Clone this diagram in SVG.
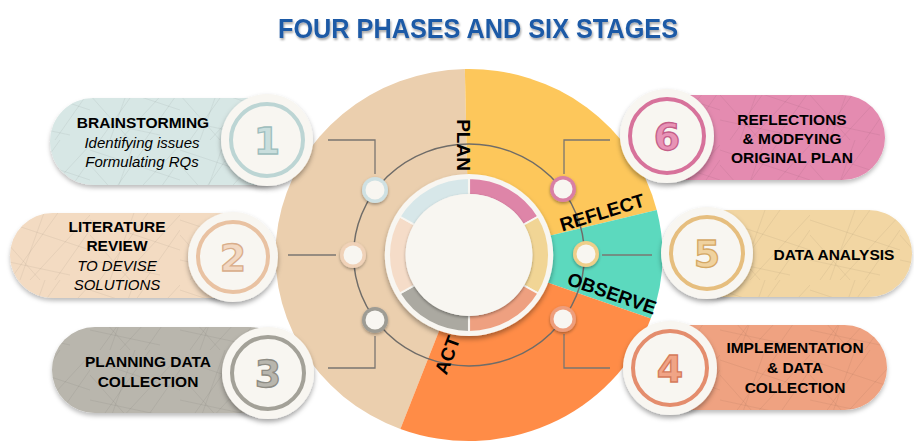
<svg xmlns="http://www.w3.org/2000/svg" width="914" height="446" viewBox="0 0 914 446">
<defs>
<style>
.t{font-family:"Liberation Sans",Arial,sans-serif;font-size:15.5px;font-weight:bold;fill:#000;text-anchor:middle}
.i{font-family:"Liberation Sans",Arial,sans-serif;font-size:15px;font-style:italic;fill:#000;text-anchor:middle}
.lab{font-family:"Liberation Sans",Arial,sans-serif;font-size:19px;font-weight:bold;fill:#000;text-anchor:middle}
.num{font-family:"DejaVu Sans",sans-serif;font-size:38px;font-weight:bold;text-anchor:middle;stroke-width:1.3}
.disc{fill:#F8F6F1;filter:url(#sh)}
.conn{fill:none;stroke:#7a7670;stroke-width:1.3}
.dot{filter:url(#sh2)}
</style>
<filter id="sh" x="-30%" y="-30%" width="160%" height="170%"><feDropShadow dx="0" dy="3" stdDeviation="2.5" flood-color="#000" flood-opacity="0.35"/></filter>
<filter id="sh2" x="-50%" y="-50%" width="200%" height="200%"><feDropShadow dx="0" dy="1.5" stdDeviation="1.5" flood-color="#000" flood-opacity="0.35"/></filter>
<filter id="shp" x="-10%" y="-20%" width="120%" height="150%"><feDropShadow dx="0" dy="3" stdDeviation="2" flood-color="#000" flood-opacity="0.25"/></filter>
<filter id="ts" x="-5%" y="-30%" width="110%" height="170%"><feDropShadow dx="1" dy="2" stdDeviation="1.2" flood-color="#000" flood-opacity="0.35"/></filter>
<pattern id="tex" width="90" height="70" patternUnits="userSpaceOnUse">
<path d="M0 10 L90 40 M10 70 L60 0 M30 70 L90 5 M0 50 L70 65 M45 0 L20 70 M0 25 L40 70 M55 70 L90 20" stroke="#000" stroke-opacity="0.08" stroke-width="0.7" fill="none"/>
</pattern>
</defs>
<rect width="914" height="446" fill="#fff"/>

<text x="478" y="38" font-family="Liberation Sans,Arial,sans-serif" font-size="27" font-weight="bold" fill="#1F5AA6" text-anchor="middle" textLength="400" lengthAdjust="spacingAndGlyphs" filter="url(#ts)">FOUR PHASES AND SIX STAGES</text>

<g id="wheel" transform="translate(469,255) scale(1.04,1)">
<path d="M0,0 L-66,173.9 A186,186 0 0 1 -4,-186 Z" fill="#EBCFAE"/>
<path d="M0,0 L-4,-186 A186,186 0 0 1 180.5,-45 Z" fill="#FDC75B"/>
<path d="M0,0 L180.5,-45 A186,186 0 0 1 174.8,63.6 Z" fill="#5CD9BE"/>
<path d="M0,0 L174.8,63.6 A186,186 0 0 1 -66,173.9 Z" fill="#FF8C47"/>
<circle r="111" fill="none" stroke="#6f6c68" stroke-width="1.4"/>
</g>

<g id="connectors">
<path class="conn" d="M328,140 H375 V174"/>
<path class="conn" d="M288,255 H336"/>
<path class="conn" d="M328,368 H375 V336"/>
<path class="conn" d="M610,140 H564 V174"/>
<path class="conn" d="M602,255 H652"/>
<path class="conn" d="M610,368 H564 V334"/>
</g>

<g id="dots">
<g class="dot"><circle cx="375" cy="190" r="13" fill="#CFE1E3"/><circle cx="375" cy="190" r="9.5" fill="#F8F6F1"/></g>
<g class="dot"><circle cx="353" cy="255" r="13" fill="#F0D2B8"/><circle cx="353" cy="255" r="9.5" fill="#F8F6F1"/></g>
<g class="dot"><circle cx="375" cy="320" r="13" fill="#9E9C94"/><circle cx="375" cy="320" r="9.5" fill="#F8F6F1"/></g>
<g class="dot"><circle cx="563" cy="189" r="13" fill="#D97FA4"/><circle cx="563" cy="189" r="9.5" fill="#F8F6F1"/></g>
<g class="dot"><circle cx="586" cy="254" r="13" fill="#EECF8A"/><circle cx="586" cy="254" r="9.5" fill="#F8F6F1"/></g>
<g class="dot"><circle cx="563" cy="319" r="13" fill="#EE9E7C"/><circle cx="563" cy="319" r="9.5" fill="#F8F6F1"/></g>
</g>

<g id="hub" transform="translate(469,255) scale(1.04,1)">
<circle r="81" class="disc"/>
<g stroke="#F8F6F1" stroke-width="2">
<path d="M0,-77 A77,77 0 0 1 66.68,-38.5 L51.96,-30 A60,60 0 0 0 0,-60 Z" fill="#DE85A8"/>
<path d="M66.68,-38.5 A77,77 0 0 1 66.68,38.5 L51.96,30 A60,60 0 0 0 51.96,-30 Z" fill="#F1D595"/>
<path d="M66.68,38.5 A77,77 0 0 1 0,77 L0,60 A60,60 0 0 0 51.96,30 Z" fill="#EEA080"/>
<path d="M0,77 A77,77 0 0 1 -66.68,38.5 L-51.96,30 A60,60 0 0 0 0,60 Z" fill="#ABA9A1"/>
<path d="M-66.68,38.5 A77,77 0 0 1 -66.68,-38.5 L-51.96,-30 A60,60 0 0 0 -51.96,30 Z" fill="#F5DCC8"/>
<path d="M-66.68,-38.5 A77,77 0 0 1 0,-77 L0,-60 A60,60 0 0 0 -51.96,-30 Z" fill="#D7E7E9"/>
</g>
<circle r="61" fill="#F8F6F1" filter="url(#sh2)"/>
</g>

<g id="labels">
<text class="lab" transform="translate(464,145) rotate(90)" y="7">PLAN</text>
<text class="lab" transform="translate(602,212) rotate(-17)" y="7">REFLECT</text>
<text class="lab" transform="translate(612,293) rotate(19)" y="7">OBSERVE</text>
<text class="lab" transform="translate(447,355) rotate(-69)" y="7">ACT</text>
</g>

<g id="node1">
<rect x="50" y="98" width="250" height="87" rx="43.5" fill="#D7E7E5" filter="url(#shp)"/>
<rect x="50" y="98" width="250" height="87" rx="43.5" fill="url(#tex)"/>
<text class="t" x="143" y="128">BRAINSTORMING</text>
<text class="i" x="142" y="148">Identifying issues</text>
<text class="i" x="142" y="167">Formulating RQs</text>
<circle cx="267" cy="140" r="46" class="disc"/>
<circle cx="267" cy="140" r="36" fill="none" stroke="#BCD5D4" stroke-width="4"/>
<text class="num" x="267" y="154" fill="#C9DEDD" stroke="#9DBDBC">1</text>
</g>

<g id="node2">
<rect x="10" y="213" width="250" height="85" rx="42.5" fill="#F3DBC2" filter="url(#shp)"/>
<rect x="10" y="213" width="250" height="85" rx="42.5" fill="url(#tex)"/>
<text class="t" x="117" y="232">LITERATURE</text>
<text class="t" x="117" y="251">REVIEW</text>
<text class="i" x="117" y="271">TO DEVISE</text>
<text class="i" x="117" y="290">SOLUTIONS</text>
<circle cx="233" cy="257" r="45" class="disc"/>
<circle cx="233" cy="257" r="35" fill="none" stroke="#E9C2A2" stroke-width="4"/>
<text class="num" x="233" y="271" fill="#F2D8C2" stroke="#D9AD8A">2</text>
</g>

<g id="node3">
<rect x="52" y="327" width="240" height="86" rx="43" fill="#B9B6AD" filter="url(#shp)"/>
<rect x="52" y="327" width="240" height="86" rx="43" fill="url(#tex)"/>
<text class="t" x="148" y="367">PLANNING DATA</text>
<text class="t" x="148" y="387">COLLECTION</text>
<circle cx="268" cy="373" r="46" class="disc"/>
<circle cx="268" cy="373" r="36" fill="none" stroke="#A3A198" stroke-width="4"/>
<text class="num" x="268" y="387" fill="#B8B6AE" stroke="#8E8C84">3</text>
</g>

<g id="node6">
<rect x="640" y="95" width="245" height="85" rx="42.5" fill="#E48BB0" filter="url(#shp)"/>
<rect x="640" y="95" width="245" height="85" rx="42.5" fill="url(#tex)"/>
<text class="t" x="792" y="125">REFLECTIONS</text>
<text class="t" x="792" y="144">&amp; MODFYING</text>
<text class="t" x="792" y="163">ORIGINAL PLAN</text>
<circle cx="667" cy="136" r="47" class="disc"/>
<circle cx="667" cy="136" r="37" fill="none" stroke="#D7729B" stroke-width="4"/>
<text class="num" x="667" y="150" fill="#E893B6" stroke="#C45F89">6</text>
</g>

<g id="node5">
<rect x="680" y="210" width="232" height="87" rx="43.5" fill="#F2D6A3" filter="url(#shp)"/>
<rect x="680" y="210" width="232" height="87" rx="43.5" fill="url(#tex)"/>
<text class="t" x="834" y="260">DATA ANALYSIS</text>
<circle cx="707" cy="253" r="46" class="disc"/>
<circle cx="707" cy="253" r="36" fill="none" stroke="#E6BE7E" stroke-width="4"/>
<text class="num" x="707" y="267" fill="#F0D29F" stroke="#D5A865">5</text>
</g>

<g id="node4">
<rect x="640" y="325" width="247" height="85" rx="42.5" fill="#EFA281" filter="url(#shp)"/>
<rect x="640" y="325" width="247" height="85" rx="42.5" fill="url(#tex)"/>
<text class="t" x="795" y="353">IMPLEMENTATION</text>
<text class="t" x="795" y="373">&amp; DATA</text>
<text class="t" x="795" y="393">COLLECTION</text>
<circle cx="670" cy="368" r="47" class="disc"/>
<circle cx="670" cy="368" r="37" fill="none" stroke="#E48D6D" stroke-width="4"/>
<text class="num" x="670" y="382" fill="#F0A486" stroke="#D57A5A">4</text>
</g>
</svg>
